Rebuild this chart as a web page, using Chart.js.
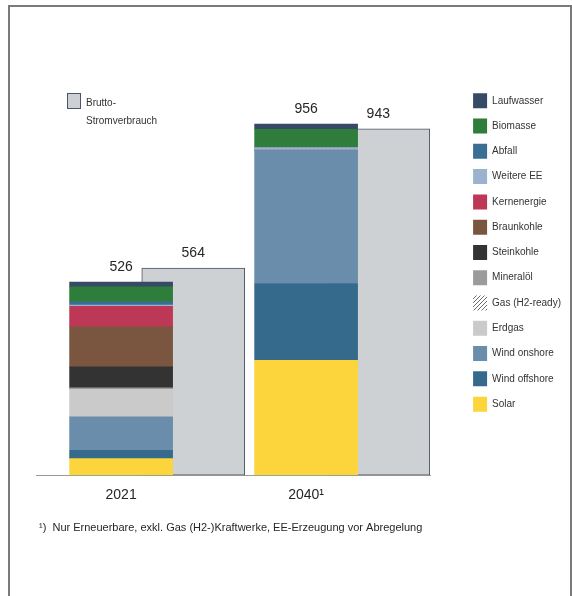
<!DOCTYPE html>
<html lang="de">
<head>
<meta charset="utf-8">
<title>Stromerzeugung 2021 und 2040</title>
<script src="https://cdn.jsdelivr.net/npm/chart.js@4"></script>
<style>
html, body { margin: 0; padding: 0; background: #fff; overflow: hidden; }
#wrap { position: relative; width: 572px; height: 596px; }
#frame { position: absolute; left: 8px; top: 5px; width: 560px; height: 640px; border: 2px solid #7a7a7a; }
canvas { position: absolute; left: 0; top: 0; }
</style>
</head>
<body>
<div id="wrap">
  <div id="frame"></div>
  <canvas id="chart" width="572" height="596"></canvas>
</div>
<script>
// Daten (TWh), von unten nach oben gestapelt
const years = ['2021', '2040¹'];
const solar = [45, 313];
const windOffshore = [23, 209];
const windOnshore = [91, 363];
const erdgas = [75, 0];
const gasH2 = [0, 0];
const mineraloel = [4, 0];
const steinkohle = [57, 0];
const braunkohle = [109, 0];
const kernenergie = [56, 0];
const weitereEE = [3, 7];
const abfall = [9, 0];
const biomasse = [41, 50];
const laufwasser = [13, 14];
const bruttoVerbrauch = [564, 943];
const bruttoLabel = ['Brutto-', 'Stromverbrauch'];
const footnote = '¹)  Nur Erneuerbare, exkl. Gas (H2-)Kraftwerke, EE-Erzeugung vor Abregelung';

// schraffiertes Muster für Gas (H2-ready)
function hatch() {
    const c = document.createElement('canvas');
    c.width = 4; c.height = 4;
    const g = c.getContext('2d');
    g.fillStyle = '#ffffff';
    g.fillRect(0, 0, 4, 4);
    g.strokeStyle = '#6b6b6b';
    g.lineWidth = 1;
    g.beginPath();
    g.moveTo(0, 4); g.lineTo(4, 0);
    g.moveTo(-1, 1); g.lineTo(1, -1);
    g.moveTo(3, 5); g.lineTo(5, 3);
    g.stroke();
    return g.createPattern(c, 'repeat');
}

const series = [
    { label: 'Solar', data: solar, color: '#fcd43b' },
    { label: 'Wind offshore', data: windOffshore, color: '#356a8d' },
    { label: 'Wind onshore', data: windOnshore, color: '#6a8dab' },
    { label: 'Erdgas', data: erdgas, color: '#cacaca' },
    { label: 'Gas (H2-ready)', data: gasH2, color: hatch() },
    { label: 'Mineralöl', data: mineraloel, color: '#9b9b9b' },
    { label: 'Steinkohle', data: steinkohle, color: '#333333' },
    { label: 'Braunkohle', data: braunkohle, color: '#7a5540' },
    { label: 'Kernenergie', data: kernenergie, color: '#bd3757' },
    { label: 'Weitere EE', data: weitereEE, color: '#9cb3d0' },
    { label: 'Abfall', data: abfall, color: '#3b6e94' },
    { label: 'Biomasse', data: biomasse, color: '#2e7d3b' },
    { label: 'Laufwasser', data: laufwasser, color: '#364a66' }
];

const greyOffset = 0.39;   // Verbrauchsbalken rechts versetzt
const greyFill = '#cdd1d3';
const greyEdge = '#4b5567';
const textColor = '#262626';

const datasets = series.map(s => ({
    label: s.label,
    data: s.data.map((v, i) => ({ x: i, y: v })),
    backgroundColor: s.color,
    borderWidth: 0,
    barThickness: 103
}));
datasets.push({
    label: 'Brutto-Stromverbrauch',
    data: bruttoVerbrauch.map((v, i) => ({ x: i + greyOffset, y: v })),
    backgroundColor: greyFill,
    borderColor: greyEdge,
    borderWidth: 1,
    borderSkipped: false,
    barThickness: 103,
    order: 1
});

const totals = years.map((_, i) => series.reduce((sum, s) => sum + s.data[i], 0));

const extras = {
    id: 'extras',
    afterDatasetsDraw(chart) {
        const ctx = chart.ctx;
        const xs = chart.scales.x, ys = chart.scales.y;
        ctx.save();
        ctx.fillStyle = textColor;
        ctx.font = '14px "Liberation Sans", Arial, sans-serif';
        ctx.textAlign = 'center';
        ctx.textBaseline = 'middle';
        totals.forEach((t, i) => {
            ctx.fillText(String(t), xs.getPixelForValue(i), ys.getPixelForValue(t) - 15);
        });
        bruttoVerbrauch.forEach((v, i) => {
            ctx.fillText(String(v), xs.getPixelForValue(i + greyOffset), ys.getPixelForValue(v) - 15);
        });
        ctx.restore();
    },
    afterDraw(chart) {
        const ctx = chart.ctx;
        ctx.save();
        // Legende Brutto-Stromverbrauch
        ctx.fillStyle = greyFill;
        ctx.fillRect(67, 93, 14, 16);
        ctx.strokeStyle = greyEdge;
        ctx.lineWidth = 1;
        ctx.strokeRect(67.5, 93.5, 13, 15);
        ctx.fillStyle = '#333';
        ctx.font = '10px "Liberation Sans", Arial, sans-serif';
        ctx.textBaseline = 'middle';
        ctx.fillText(bruttoLabel[0], 86, 103);
        ctx.fillText(bruttoLabel[1], 86, 121);
        // Fußnote
        ctx.fillStyle = textColor;
        ctx.font = '11px "Liberation Sans", Arial, sans-serif';
        ctx.fillText(footnote, 39, 528);
        ctx.restore();
    }
};

Chart.defaults.font.family = '"Liberation Sans", Arial, sans-serif';

new Chart(document.getElementById('chart'), {
    type: 'bar',
    data: { datasets },
    plugins: [extras],
    options: {
        responsive: false,
        animation: false,
        layout: { padding: { left: 36, top: 83, right: 1, bottom: 80 } },
        plugins: {
            tooltip: { enabled: false },
            legend: {
                position: 'right',
                align: 'start',
                reverse: true,
                labels: {
                    boxWidth: 14,
                    boxHeight: 15,
                    padding: 10.28,
                    color: '#333',
                    font: { size: 10 },
                    filter: item => item.text !== 'Brutto-Stromverbrauch'
                }
            }
        },
        scales: {
            x: {
                type: 'linear',
                stacked: true,
                offset: false,
                min: -0.46,
                max: 1.674,
                afterBuildTicks: scale => { scale.ticks = years.map((_, i) => ({ value: i })); },
                ticks: {
                    autoSkip: false,
                    padding: 12,
                    color: textColor,
                    font: { size: 14 },
                    callback: value => years[value]
                },
                grid: { display: false, drawTicks: false, offset: false },
                border: { display: true, color: '#9a9a9a', width: 1 }
            },
            y: {
                stacked: true,
                position: 'right',
                min: 0,
                max: 1068,
                ticks: { display: false },
                grid: { display: false, drawTicks: false },
                border: { display: false },
                afterFit: scale => { scale.width = 32; }
            }
        }
    }
});
</script>
</body>
</html>
